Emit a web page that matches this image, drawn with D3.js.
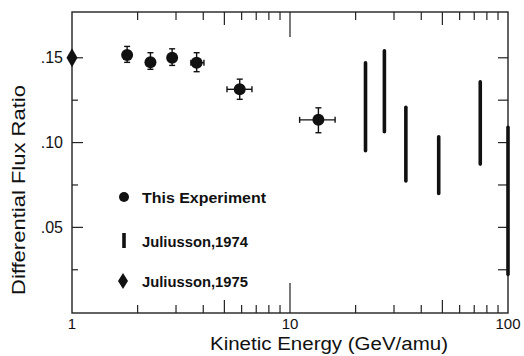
<!DOCTYPE html>
<html>
<head>
<meta charset="utf-8">
<script src="https://cdn.jsdelivr.net/npm/d3@7"></script>
<style>
  html, body { margin: 0; padding: 0; background: #fff; }
  svg { display: block; font-family: "Liberation Sans", Arial, sans-serif; }
</style>
</head>
<body>
<svg id="chart" width="524" height="356"></svg>
<script>
// ---- Data ----
const expEnergy   = [1.79, 2.29, 2.88, 3.73, 5.88, 13.5];
const expRatio    = [0.1516, 0.1473, 0.1500, 0.1471, 0.1314, 0.1134];
const expRatioLo  = [0.1473, 0.1432, 0.1455, 0.1418, 0.1255, 0.1058];
const expRatioHi  = [0.1567, 0.1530, 0.1553, 0.1530, 0.1374, 0.1205];
const expEnergyLo = [null, null, null, 3.51, 5.14, 11.07];
const expEnergyHi = [null, null, null, 4.03, 6.69, 16.1];

const jul74Energy = [22.2, 27.1, 34.0, 48.1, 74.6, 100];
const jul74Lo     = [0.0952, 0.1064, 0.0773, 0.0700, 0.0873, 0.0223];
const jul74Hi     = [0.1471, 0.1541, 0.1208, 0.1034, 0.1358, 0.1090];

const jul75Energy = [1.0];
const jul75Ratio  = [0.150];

const xTickLabels = ["1", "10", "100"];
const xTickValues = [1, 10, 100];
const yTickLabels = [".05", ".10", ".15"];
const yTickValues = [0.05, 0.10, 0.15];
const yMinorValues = [0.025, 0.075, 0.125];
const xMinorValues = [2,3,4,5,6,7,8,9,20,30,40,50,60,70,80,90];

const legendLabels = ["This Experiment", "Juliusson,1974", "Juliusson,1975"];

// ---- Layout ----
const L = 72, R = 508, T = 12, B = 313;
const svg = d3.select("#chart");
const x = d3.scaleLog().domain([1, 100]).range([L, R]);
const y = d3.scaleLinear().domain([-0.0005, 0.177]).range([B, T]);
const ink = "#111";

// frame
svg.append("rect").attr("x", L).attr("y", T).attr("width", R - L).attr("height", B - T)
  .attr("fill", "none").attr("stroke", "#222").attr("stroke-width", 1.4);

// x ticks (bottom upward, top downward)
function xTickLen(v, bottom) {
  if (v === 10) return bottom ? 30 : 25;
  if (v === 5 || v === 50) return 13;
  return 8;
}
const xt = svg.append("g").attr("stroke", "#222").attr("stroke-width", 1.2);
xMinorValues.concat([10]).forEach(v => {
  xt.append("line").attr("x1", x(v)).attr("x2", x(v)).attr("y1", B).attr("y2", B - xTickLen(v, true));
  xt.append("line").attr("x1", x(v)).attr("x2", x(v)).attr("y1", T).attr("y2", T + xTickLen(v, false));
});
// y ticks (left and right inward)
const yt = svg.append("g").attr("stroke", "#222").attr("stroke-width", 1.2);
yTickValues.forEach(v => {
  yt.append("line").attr("x1", L).attr("x2", L + 11).attr("y1", y(v)).attr("y2", y(v));
  yt.append("line").attr("x1", R).attr("x2", R - 10).attr("y1", y(v)).attr("y2", y(v));
});
yMinorValues.forEach(v => {
  yt.append("line").attr("x1", L).attr("x2", L + 6).attr("y1", y(v)).attr("y2", y(v));
  yt.append("line").attr("x1", R).attr("x2", R - 10).attr("y1", y(v)).attr("y2", y(v));
});

// tick labels
svg.append("g").selectAll("text").data(xTickValues).join("text")
  .attr("x", d => x(d)).attr("y", 329).attr("text-anchor", "middle")
  .attr("font-size", 15).attr("fill", ink)
  .text((d, i) => xTickLabels[i]);
svg.append("g").selectAll("text").data(yTickValues).join("text")
  .attr("x", 63).attr("y", d => y(d) + 5.5).attr("text-anchor", "end")
  .attr("font-size", 16).attr("fill", ink)
  .text((d, i) => yTickLabels[i]);

// axis titles
svg.append("text").attr("x", 210).attr("y", 350).attr("font-size", 18)
  .attr("textLength", 238).attr("lengthAdjust", "spacingAndGlyphs").attr("fill", ink)
  .text("Kinetic Energy (GeV/amu)");
svg.append("text").attr("transform", "translate(25,295) rotate(-90)").attr("font-size", 18)
  .attr("textLength", 210).attr("lengthAdjust", "spacingAndGlyphs").attr("fill", ink)
  .text("Differential Flux Ratio");

// Juliusson 1974 bars
svg.append("g").selectAll("line").data(jul74Energy).join("line")
  .attr("x1", d => x(d)).attr("x2", d => x(d))
  .attr("y1", (d, i) => y(jul74Hi[i])).attr("y2", (d, i) => y(jul74Lo[i]))
  .attr("stroke", ink).attr("stroke-width", 3.6).attr("stroke-linecap", "round");

// experiment error bars
const eb = svg.append("g").attr("stroke", ink).attr("stroke-width", 1.4);
expEnergy.forEach((e, i) => {
  const cx = x(e), cy = y(expRatio[i]);
  eb.append("line").attr("x1", cx).attr("x2", cx).attr("y1", y(expRatioHi[i])).attr("y2", y(expRatioLo[i]));
  [expRatioHi[i], expRatioLo[i]].forEach(v => {
    eb.append("line").attr("x1", cx - 3).attr("x2", cx + 3).attr("y1", y(v)).attr("y2", y(v));
  });
  if (expEnergyLo[i] != null) {
    eb.append("line").attr("x1", x(expEnergyLo[i])).attr("x2", x(expEnergyHi[i])).attr("y1", cy).attr("y2", cy);
    [expEnergyLo[i], expEnergyHi[i]].forEach(v => {
      eb.append("line").attr("x1", x(v)).attr("x2", x(v)).attr("y1", cy - 3).attr("y2", cy + 3);
    });
  }
});
svg.append("g").selectAll("circle").data(expEnergy).join("circle")
  .attr("cx", d => x(d)).attr("cy", (d, i) => y(expRatio[i])).attr("r", 6)
  .attr("fill", ink);

// Juliusson 1975 diamond
const diamond = (cx, cy, w, h) => `M${cx},${cy - h} L${cx + w},${cy} L${cx},${cy + h} L${cx - w},${cy} Z`;
svg.append("g").selectAll("path").data(jul75Energy).join("path")
  .attr("d", (d, i) => diamond(x(d), y(jul75Ratio[i]), 5.5, 9.5))
  .attr("fill", ink);

// legend
const lg = svg.append("g");
lg.append("circle").attr("cx", 124).attr("cy", 197).attr("r", 5).attr("fill", ink);
lg.append("line").attr("x1", 124).attr("x2", 124).attr("y1", 233).attr("y2", 248)
  .attr("stroke", ink).attr("stroke-width", 3.6);
lg.append("path").attr("d", diamond(123, 281, 5, 8)).attr("fill", ink);
const legY = [203, 247, 287];
const legW = [124, 106, 106];
legendLabels.forEach((t, i) => {
  lg.append("text").attr("x", 142).attr("y", legY[i]).attr("font-size", 15)
    .attr("font-weight", "bold").attr("fill", ink)
    .attr("textLength", legW[i]).attr("lengthAdjust", "spacingAndGlyphs").text(t);
});
</script>
</body>
</html>
